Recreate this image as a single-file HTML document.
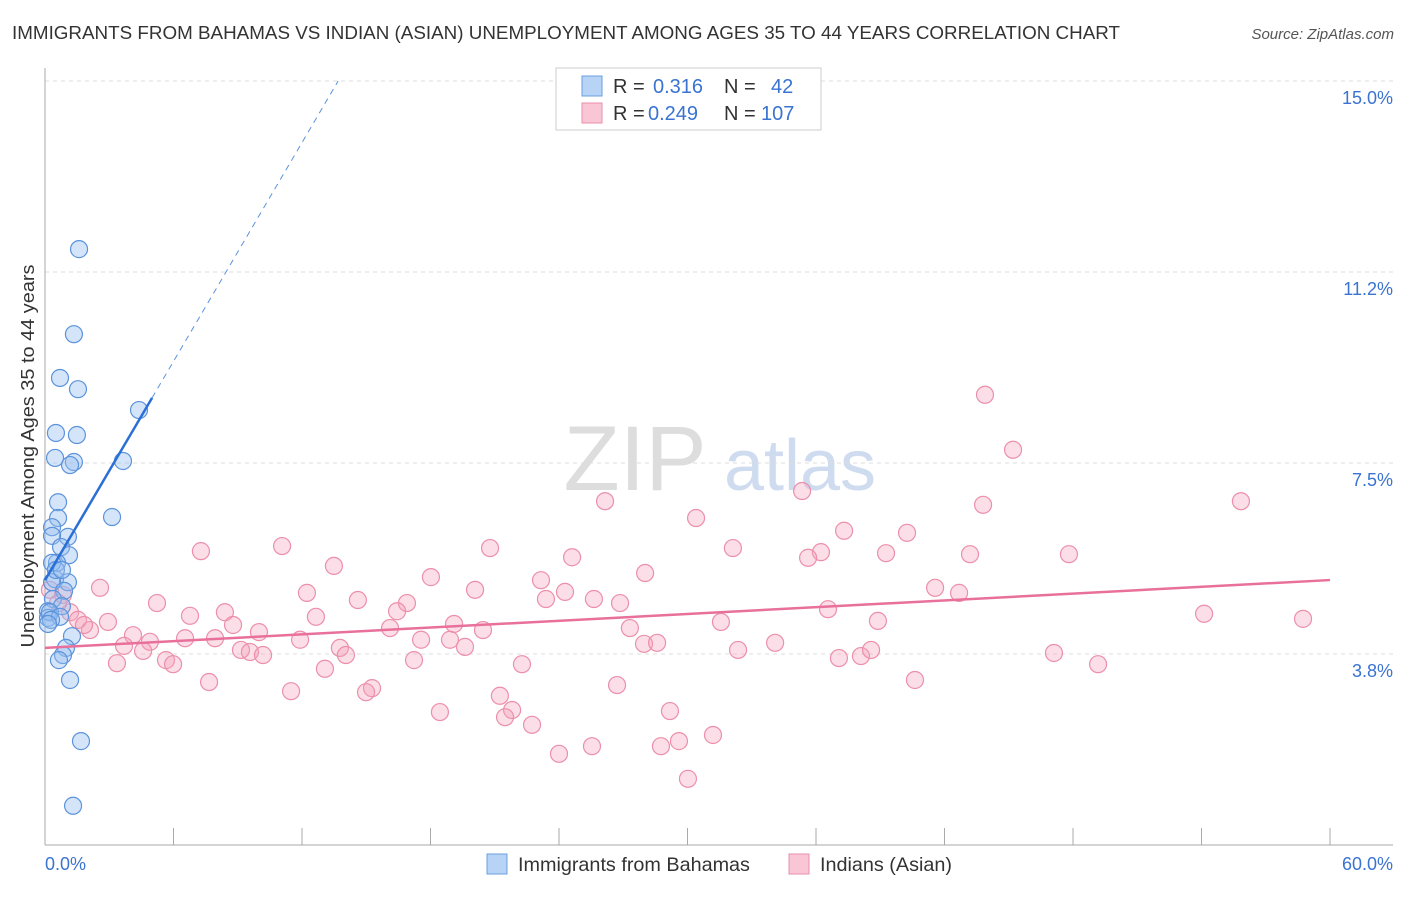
<!DOCTYPE html>
<html><head><meta charset="utf-8"><style>
body{margin:0;background:#fff;font-family:"Liberation Sans",sans-serif}
svg text{font-family:"Liberation Sans",sans-serif}
</style></head><body>
<svg id="chart" width="1406" height="892">
<text x="12" y="39" font-size="18" fill="#333" textLength="1108" lengthAdjust="spacingAndGlyphs">IMMIGRANTS FROM BAHAMAS VS INDIAN (ASIAN) UNEMPLOYMENT AMONG AGES 35 TO 44 YEARS CORRELATION CHART</text>
<text x="1394" y="39" font-size="15" fill="#555" font-style="italic" text-anchor="end">Source: ZipAtlas.com</text>
<g><text x="635" y="490" font-size="92" fill="#ddd" font-family="Liberation Serif" text-anchor="middle">ZIP</text><text x="800" y="490" font-size="72" fill="#cfdcf0" text-anchor="middle">atlas</text></g>
<g id="grid"></g>
<g id="axes"></g>
<text transform="translate(34,456) rotate(-90)" font-size="18" fill="#333" text-anchor="middle" textLength="383" lengthAdjust="spacingAndGlyphs">Unemployment Among Ages 35 to 44 years</text>
<g id="marks"></g>
<g>
<rect x="556" y="68" width="265" height="62" fill="#fff" stroke="#ccc"/>
<rect x="582" y="76" width="20" height="20" fill="#b7d3f5" stroke="#6a9fe0"/>
<rect x="582" y="103" width="20" height="20" fill="#f8c6d5" stroke="#eb8fab"/>
<text x="613" y="93" font-size="20" fill="#333">R = <tspan x="653" fill="#3a73d1">0.316</tspan><tspan x="724">N = </tspan><tspan x="771" fill="#3a73d1">42</tspan></text>
<text x="613" y="120" font-size="20" fill="#333">R = <tspan x="648" fill="#3a73d1">0.249</tspan><tspan x="724">N = </tspan><tspan x="761" fill="#3a73d1">107</tspan></text>
</g>
<g>
<rect x="487" y="854" width="20" height="20" fill="#b7d3f5" stroke="#6a9fe0"/>
<text x="518" y="871" font-size="19.8" fill="#333">Immigrants from Bahamas</text>
<rect x="789" y="854" width="20" height="20" fill="#f8c6d5" stroke="#eb8fab"/>
<text x="820" y="871" font-size="19.8" fill="#333">Indians (Asian)</text>
</g>
</svg>
<script>
const blueX=[1.59,1.35,0.70,1.54,4.39,0.51,1.49,0.47,1.35,1.17,3.64,0.61,3.13,0.61,0.33,1.07,0.33,0.75,1.12,0.56,0.33,0.47,1.07,0.33,0.89,0.37,0.79,0.14,0.14,0.23,0.70,0.28,1.26,0.98,0.84,0.65,1.17,1.68,1.31,0.14,0.51,0.79];
const blueY=[11.70,10.03,9.17,8.95,8.54,8.09,8.05,7.60,7.52,7.46,7.54,6.73,6.44,6.42,6.24,6.05,6.07,5.85,5.69,5.54,5.54,5.22,5.16,5.16,4.99,4.83,4.69,4.59,4.46,4.57,4.48,4.42,4.10,3.87,3.73,3.63,3.24,2.04,0.77,4.34,5.40,5.40];
const pinkX=[43.89,45.20,26.15,35.35,55.84,43.80,30.40,37.31,40.25,32.12,7.28,11.07,20.78,36.23,39.27,43.19,47.81,24.61,35.63,13.49,28.02,18.02,23.16,2.57,12.23,20.08,41.56,42.68,24.28,23.39,25.63,26.85,5.23,14.61,16.90,16.44,36.56,8.40,6.77,12.65,2.94,54.12,58.74,38.89,31.56,19.10,20.45,16.11,27.31,8.78,9.99,2.10,4.11,6.54,7.94,11.91,17.56,18.91,4.90,3.69,9.15,4.58,13.77,14.05,9.57,10.18,19.61,27.97,28.58,34.09,32.36,47.11,5.65,37.07,38.10,38.57,17.23,49.17,3.36,5.98,22.27,13.07,7.66,26.71,40.62,11.49,15.27,14.99,21.24,18.44,29.18,21.81,21.48,22.74,31.19,25.54,24.00,28.76,29.60,30.02,0.84,1.17,1.54,0.61,0.23,1.82];
const pinkY=[8.84,7.76,6.75,6.95,6.75,6.68,6.42,6.17,6.13,5.83,5.77,5.87,5.83,5.75,5.73,5.71,5.71,5.65,5.64,5.48,5.34,5.26,5.20,5.05,4.95,5.01,5.05,4.95,4.97,4.83,4.83,4.75,4.75,4.81,4.75,4.59,4.63,4.57,4.50,4.48,4.38,4.54,4.44,4.40,4.38,4.34,4.22,4.26,4.26,4.32,4.18,4.22,4.12,4.06,4.06,4.03,4.03,4.03,3.99,3.91,3.83,3.81,3.87,3.73,3.79,3.73,3.89,3.95,3.97,3.97,3.83,3.77,3.63,3.67,3.71,3.83,3.63,3.55,3.57,3.55,3.55,3.46,3.20,3.14,3.24,3.02,3.08,3.00,2.93,2.61,2.63,2.65,2.51,2.36,2.16,1.94,1.79,1.94,2.04,1.30,4.91,4.57,4.42,4.75,5.01,4.32];
const yTicks=[3.75,7.5,11.25,15];
const yTickLabels=["3.8%","7.5%","11.2%","15.0%"];
const xTicks=[0,6,12,18,24,30,36,42,48,54,60];
const blueTrend=[5.20,0.716];
const pinkTrend=[3.87,0.0222];
const X=v=>45+v*21.417, Y=v=>845-v*50.93;
const NS="http://www.w3.org/2000/svg";
function mk(p,t,a){const e=document.createElementNS(NS,t);for(const k in a)e.setAttribute(k,a[k]);p.appendChild(e);return e;}
const grid=document.getElementById('grid'),axes=document.getElementById('axes'),marks=document.getElementById('marks');
yTicks.forEach((v,i)=>{
 const l=mk(grid,'line',{x1:45,x2:1393,y1:Y(v),y2:Y(v),stroke:'#ddd','stroke-dasharray':'4,4'});
 
 
 const t=mk(axes,'text',{x:1393,y:Y(v)+23,'font-size':18,fill:'#3a73d1','text-anchor':'end'});
 t.textContent=yTickLabels[i];
 
 
});
mk(axes,'line',{x1:45,x2:45,y1:68,y2:845,stroke:'#aaa'});
mk(axes,'line',{x1:45,x2:1393,y1:845,y2:845,stroke:'#aaa'});
xTicks.forEach(v=>{
 const l=mk(axes,'line',{x1:X(v),x2:X(v),y1:828,y2:845,stroke:'#aaa'});
 
 
});
let t0=mk(axes,'text',{x:45,y:870,'font-size':18,fill:'#3a73d1'});t0.textContent='0.0%';


let t1=mk(axes,'text',{x:1393,y:870,'font-size':18,fill:'#3a73d1','text-anchor':'end'});t1.textContent='60.0%';


pinkX.forEach((x,i)=>{
 const c=mk(marks,'circle',{cx:X(x),cy:Y(pinkY[i]),r:8.5,fill:'rgba(244,160,185,0.35)',stroke:'#ec8fab','stroke-width':1.2});
 
 
});
blueX.forEach((x,i)=>{
 const c=mk(marks,'circle',{cx:X(x),cy:Y(blueY[i]),r:8.5,fill:'rgba(150,190,240,0.4)',stroke:'#5b93dc','stroke-width':1.2});
 
 
});
const xEnd=(15-blueTrend[0])/blueTrend[1];
let d=mk(marks,'line',{x1:X(5),y1:Y(blueTrend[0]+blueTrend[1]*5),x2:X(xEnd),y2:Y(15),stroke:'#5b93dc','stroke-width':1,'stroke-dasharray':'6,5'});


let b=mk(marks,'line',{x1:X(0),y1:Y(blueTrend[0]),x2:X(5),y2:Y(blueTrend[0]+blueTrend[1]*5),stroke:'#2a6fd6','stroke-width':2.5});


let p=mk(marks,'line',{x1:X(0),y1:Y(pinkTrend[0]),x2:X(60),y2:Y(pinkTrend[0]+pinkTrend[1]*60),stroke:'#e8709a','stroke-width':2.5});


</script>
</body></html>
